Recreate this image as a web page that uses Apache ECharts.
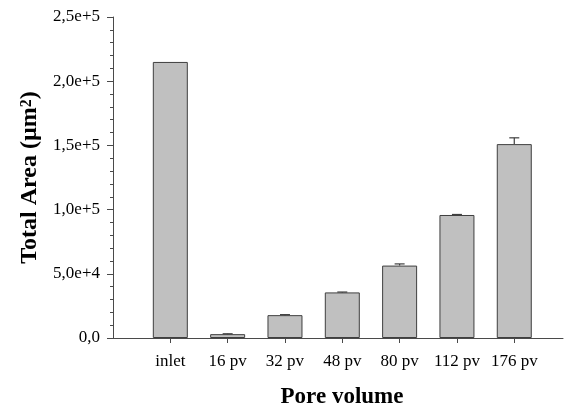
<!DOCTYPE html>
<html>
<head>
<meta charset="utf-8">
<script src="https://cdn.jsdelivr.net/npm/echarts@6/dist/echarts.min.js"></script>
<style>html,body{margin:0;padding:0;background:#fff;}#chart{width:564px;height:406px;}</style>
</head>
<body>
<div id="chart"></div>
<script>
const categories = ['inlet', '16 pv', '32 pv', '48 pv', '80 pv', '112 pv', '176 pv'];
const totalArea = [215000, 3000, 17800, 35500, 56400, 95800, 151000];
const errorUp = [0, 300, 400, 300, 1300, 400, 4900];
const yMax = 250000;
const yStep = 50000;

const slots = categories.map((c, i) => i + 1);
const barData = categories.map((c, i) => [slots[i], totalArea[i]]);
const errData = categories.map((c, i) => [slots[i], totalArea[i], totalArea[i] + errorUp[i]]);

const serif = '"Liberation Serif", "Times New Roman", serif';
const axisColor = '#4a4a4a';

const chart = echarts.init(document.getElementById('chart'), null, {renderer: 'canvas'});
chart.setOption({
  animation: false,
  backgroundColor: '#ffffff',
  grid: {left: 113, right: 1, top: 17, bottom: 68, containLabel: false, outerBoundsMode: 'none'},
  xAxis: {
    type: 'value',
    min: 0,
    max: 7.85,
    interval: 1,
    name: 'Pore volume',
    nameLocation: 'middle',
    nameGap: 48,
    nameTextStyle: {fontFamily: serif, fontSize: 23, fontWeight: 'bold', color: '#000', padding: [0, 0, 0, 8]},
    axisLine: {show: true, lineStyle: {color: axisColor, width: 1}},
    axisTick: {show: true, length: 5, customValues: slots, lineStyle: {color: axisColor}},
    axisLabel: {
      customValues: slots,
      margin: 15,
      fontFamily: serif, fontSize: 17, color: '#000',
      formatter: v => categories[Math.round(v) - 1] || ''
    },
    splitLine: {show: false}
  },
  yAxis: {
    type: 'value',
    min: 0,
    max: yMax,
    interval: yStep,
    name: 'Total Area (µm{sup|2})',
    nameLocation: 'middle',
    nameGap: 69,
    nameRotate: 90,
    nameTextStyle: {
      fontFamily: serif, fontSize: 24, fontWeight: 'bold', color: '#000',
      rich: {
        sup: {fontFamily: serif, fontSize: 16, fontWeight: 'bold', color: '#000', padding: [0, 0, 6, 0]}
      }
    },
    axisLine: {show: true, lineStyle: {color: axisColor, width: 1}},
    axisTick: {show: true, length: 6, lineStyle: {color: axisColor}},
    minorTick: {show: true, splitNumber: 5, length: 3, lineStyle: {color: axisColor}},
    axisLabel: {
      margin: 13,
      fontFamily: serif, fontSize: 17, color: '#000',
      formatter: v => v === 0 ? '0,0' : v.toExponential(1).replace('.', ',')
    },
    splitLine: {show: false}
  },
  series: [
    {
      type: 'bar',
      data: barData,
      barWidth: 35,
      itemStyle: {color: '#c0c0c0', borderColor: '#3f3f3f', borderWidth: 1}
    },
    {
      type: 'custom',
      data: errData,
      z: 5,
      renderItem: function (params, api) {
        const x = api.value(0);
        if (api.value(2) <= api.value(1)) return {type: 'group', children: []};
        const lo = api.coord([x, api.value(1)]);
        const hi = api.coord([x, api.value(2)]);
        const half = 5;
        const style = {stroke: '#3f3f3f', lineWidth: 1.2};
        return {
          type: 'group',
          children: [
            {type: 'line', shape: {x1: lo[0], y1: lo[1], x2: hi[0], y2: hi[1]}, style: style},
            {type: 'line', shape: {x1: hi[0] - half, y1: hi[1], x2: hi[0] + half, y2: hi[1]}, style: style}
          ]
        };
      }
    }
  ]
});
</script>
</body>
</html>
